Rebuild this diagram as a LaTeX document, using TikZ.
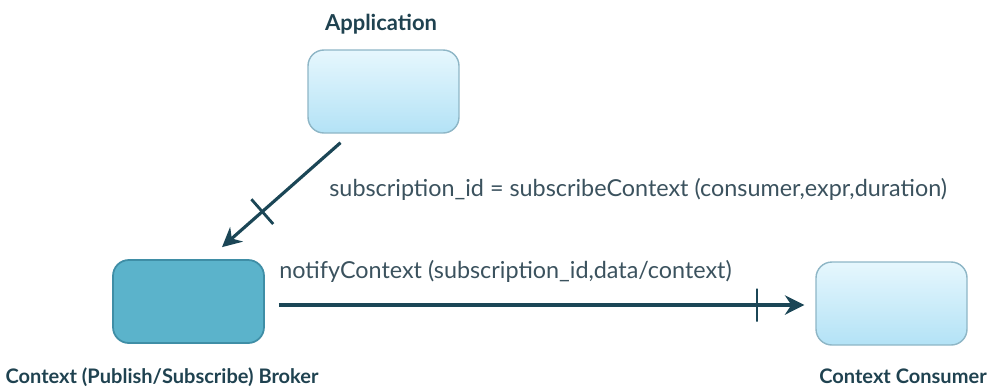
\documentclass[tikz,border=0pt]{standalone}
\usepackage{fontspec}
\setmainfont{Lato}
\usepackage{tikz}
\usetikzlibrary{calc}
\usetikzlibrary{arrows.meta}

\definecolor{linedark}{HTML}{1B4656}
\definecolor{labeldark}{HTML}{1F4250}
\definecolor{msgtext}{HTML}{3B525E}
\definecolor{boxtop}{HTML}{E6F7FD}
\definecolor{boxbottom}{HTML}{B3E2F6}
\definecolor{boxedge}{HTML}{8EB6C6}
\definecolor{brokerfill}{HTML}{5BB3CB}
\definecolor{brokeredge}{HTML}{3F8EA6}

\tikzset{
  lightbox/.style={rectangle, rounded corners=9pt, minimum width=3.02cm, minimum height=1.66cm,
    draw=boxedge, line width=0.8pt, top color=boxtop, bottom color=boxbottom},
  brokerbox/.style={rectangle, rounded corners=9pt, minimum width=3.02cm, minimum height=1.66cm,
    draw=brokeredge, line width=1pt, fill=brokerfill},
  rolelabel/.style={font=\fontsize{11.4}{13}\selectfont\bfseries, text=labeldark, anchor=base, inner sep=0pt},
  msglabel/.style={font=\fontsize{13.3}{15}\selectfont, text=msgtext, anchor=base west, inner sep=0pt},
  msgarrow/.style={->, line width=1.8pt, draw=linedark},
  tickmark/.style={rectangle, draw=linedark, line width=1.6pt, inner sep=0pt,
    minimum width=0pt, minimum height=0.66cm, fill=none}
}

\begin{document}
\begin{tikzpicture}[x=0.02cm, y=-0.02cm, >={Stealth[length=11pt,width=11pt]}]
      \useasboundingbox (0,0) rectangle (989,387);

      % the three parties
      \node[lightbox]  (app)      at (383.5,91.5)  {};
      \node[brokerbox] (broker)   at (188.5,301.5) {};
      \node[lightbox]  (consumer) at (891.5,303.5) {};

      \node[rolelabel, font=\fontsize{12.5}{14}\selectfont\bfseries] (applabel) at (381,30) {Application};
      \node[rolelabel] (brokerlabel)   at (162,383) {Context (Publish/Subscribe) Broker};
      \node[rolelabel] (consumerlabel) at (903,383) {Context Consumer};

      % subscription
      \draw[msgarrow] ([shift={(-43,9)}]app.south) -- ([shift={(33.5,-12)}]broker.north)
        node[tickmark, pos=0.66, sloped] (subtick) {};
      \node[msglabel] (sublabel) at (329,196) {subscription\_id = subscribeContext (consumer,expr,duration)};

      % notification
      \draw[msgarrow] ([shift={(14,3.5)}]broker.east) -- ([shift={(-11,1.5)}]consumer.west)
        node[tickmark, pos=0.91] (notetick) {};
      \node[msglabel] (notelabel) at (279,278) {notifyContext (subscription\_id,data/context)};
    \end{tikzpicture}
\end{document}
